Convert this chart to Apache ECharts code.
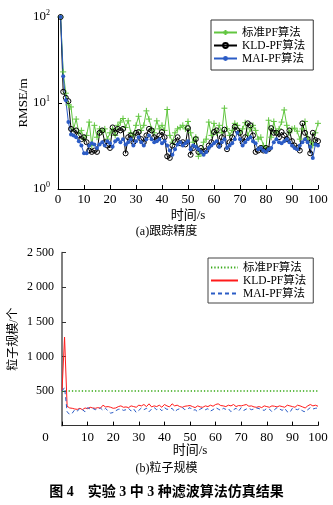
<!DOCTYPE html>
<html><head><meta charset="utf-8">
<script src="https://cdn.jsdelivr.net/npm/echarts@6/dist/echarts.min.js"></script>
<style>html,body{margin:0;padding:0;background:#fff}#c{width:333px;height:505px}</style>
</head><body><div id="c"></div>
<script>
const names = ['标准PF算法', 'KLD-PF算法', 'MAI-PF算法'];
const xTicks = [0, 10, 20, 30, 40, 50, 60, 70, 80, 90, 100];
const rmseStd = [100, 23, 13, 9.5, 9, 5, 6.5, 4.5, 4.8, 3.8,
 4.2, 6, 3.2, 5.5, 4, 5, 4.6, 5, 3.8, 4.5,
 5, 4.2, 5.5, 6, 6.6, 5.2, 6.2, 4.5, 4.2, 5.5,
 7, 4.8, 5.5, 8.1, 6.5, 5, 4.5, 6.2, 5, 5.5,
 4.8, 8.4, 4.2, 3.5, 4.5, 5, 5.2, 5.5, 5, 6.1,
 4.5, 3.5, 4, 2.4, 2.6, 3.5, 3.8, 6, 4.2, 5.8,
 4.5, 5.5, 4.5, 8.7, 5, 4.2, 4.8, 5.8, 5.5, 4.5,
 5, 5.9, 4.2, 5, 5.5, 4.8, 3.8, 4, 3.2, 3,
 6.3, 4, 6.1, 4.5, 5, 6, 8.3, 5.5, 4.5, 5,
 5.1, 4.7, 3.8, 5, 6.1, 4, 3.5, 3.2, 4.5, 5.8];
const rmseKld = [100, 13.5, 11.5, 10.5, 5, 4.6, 4.8, 4.2, 3.8, 4,
 3.5, 2.8, 2.7, 2.8, 2.7, 4.5, 4.8, 3.5, 3.2, 3,
 5.2, 4.5, 5, 4.8, 5, 2.6, 4, 4.2, 3.5, 4.5,
 4.6, 3.8, 3.5, 4.2, 5, 4.8, 4, 3.8, 4.2, 4.6,
 4, 2.4, 2.3, 3.2, 3.5, 4, 3.4, 3.5, 3.3, 5.1,
 2.5, 3, 3.8, 2.7, 3, 2.7, 2.8, 3.2, 3.5, 4.6,
 4.8, 3.2, 4, 4.9, 2.9, 3.5, 4, 5.3, 4.8, 4.5,
 3.5, 4, 5.8, 5.5, 4.2, 2.7, 2.8, 3, 2.8, 3,
 2.9, 5.1, 4.5, 4.5, 4, 4.6, 4.2, 3.8, 4.8, 3.6,
 3.2, 3, 2.8, 5.8, 4.5, 3.8, 2.6, 4.5, 3.7, 3.6];
const rmseMai = [100, 20.5, 10.8, 6, 4.3, 4.2, 4, 3.6, 3.2, 2.6,
 2.6, 3.2, 3.4, 3.3, 3, 3.3, 3.5, 3.2, 3.6, 3.4,
 3.1, 3.6, 3.8, 3.5, 3.8, 3.3, 3.5, 3.8, 3.2, 3.6,
 4, 3.5, 3.2, 3.8, 4.2, 3.8, 3.5, 3.6, 3.8, 3.4,
 3.6, 3.2, 2.8, 2.5, 2.9, 3.3, 3.5, 3.2, 3.4, 3.6,
 2.9, 3.2, 3.1, 2.9, 2.7, 2.5, 2.7, 3, 3.2, 3.4,
 3.6, 3.1, 3.5, 3.8, 3, 3.2, 3.4, 3.8, 4.5, 3.8,
 3.2, 3.5, 3.8, 4, 3.6, 3.4, 2.9, 3, 2.8, 2.7,
 2.9, 3, 3.5, 3.8, 3.5, 3.4, 3.6, 3.8, 3.5, 3.2,
 3, 2.9, 3.2, 3.5, 3.8, 3.5, 3.1, 2.3, 3.3, 3.2];
const partStd = [500, 500, 500, 500, 500, 500, 500, 500, 500, 500,
 500, 500, 500, 500, 500, 500, 500, 500, 500, 500,
 500, 500, 500, 500, 500, 500, 500, 500, 500, 500,
 500, 500, 500, 500, 500, 500, 500, 500, 500, 500,
 500, 500, 500, 500, 500, 500, 500, 500, 500, 500,
 500, 500, 500, 500, 500, 500, 500, 500, 500, 500,
 500, 500, 500, 500, 500, 500, 500, 500, 500, 500,
 500, 500, 500, 500, 500, 500, 500, 500, 500, 500,
 500, 500, 500, 500, 500, 500, 500, 500, 500, 500,
 500, 500, 500, 500, 500, 500, 500, 500, 500, 500,
 500];
const partKld = [500, 1280, 280, 255, 250, 240, 235, 250, 230, 255,
 245, 265, 255, 250, 260, 250, 295, 270, 275, 265,
 250, 255, 275, 285, 265, 270, 260, 285, 275, 265,
 295, 285, 305, 275, 315, 270, 285, 275, 295, 265,
 305, 285, 270, 315, 285, 295, 275, 265, 280, 285,
 290, 275, 260, 285, 270, 265, 285, 275, 295, 280,
 305, 315, 290, 285, 275, 295, 285, 305, 275, 290,
 285, 295, 305, 280, 285, 270, 265, 275, 260, 285,
 275, 265, 285, 280, 270, 285, 275, 265, 295, 285,
 275, 265, 295, 285, 270, 255, 285, 305, 285, 295,
 280];
const partMai = [500, 550, 200, 160, 180, 230, 210, 250, 230, 200,
 260, 240, 250, 230, 245, 255, 220, 250, 210, 180,
 190, 215, 235, 240, 220, 230, 250, 210, 240, 190,
 220, 255, 230, 250, 200, 240, 260, 230, 250, 215,
 260, 235, 240, 250, 200, 230, 245, 260, 230, 240,
 260, 220, 230, 200, 240, 255, 230, 245, 210, 230,
 260, 240, 220, 250, 235, 245, 200, 230, 250, 210,
 260, 220, 240, 250, 230, 240, 255, 245, 230, 220,
 250, 240, 200, 230, 260, 240, 220, 250, 200, 190,
 250, 240, 230, 250, 210, 200, 230, 260, 240, 250,
 255];

const FONT = "'Liberation Serif','Noto Sans CJK SC',serif";
const GREEN = '#62c640', BLUE = '#2b5cc6', RED = '#ff1a1a', DGREEN = '#35a814';
const top1 = (arr) => arr.map((v, i) => [i + 1, v]);
const top0 = (arr) => arr.map((v, i) => [i, v]);

const chart = echarts.init(document.getElementById('c'), null, {renderer: 'canvas'});
const baseX = (gi, zeroShift) => ({
  type: 'value', gridIndex: gi, min: 0, max: 100, interval: 10,
  name: '时间/s', nameLocation: 'middle', nameGap: gi === 0 ? 20 : 18,
  nameMoveOverlap: false,
  nameTextStyle: {fontFamily: FONT, fontSize: 13, color: '#000'},
  axisLine: {lineStyle: {color: gi === 0 ? '#000' : '#333', width: 1}},
  axisTick: {inside: true, length: 4, lineStyle: {color: '#000'}},
  splitLine: {show: false},
  axisLabel: {
    fontFamily: FONT, fontSize: 13, color: '#000', margin: gi === 0 ? 4 : 5,
    hideOverlap: false,
    formatter: (v) => (zeroShift && v === 0) ? '{z|0}' : String(v),
    rich: {z: {fontFamily: FONT, fontSize: 13, color: '#000', padding: [0, 33, 0, 0]}}
  }
});
const option = {
  animation: false,
  backgroundColor: '#fff',
  grid: [
    {left: 58, top: 17, width: 260, height: 172},
    {left: 58, top: 252.7, width: 260, height: 172.9}
  ],
  xAxis: [baseX(0, false), baseX(1, true)],
  yAxis: [
    {
      type: 'log', logBase: 10, gridIndex: 0, min: 1, max: 100,
      name: 'RMSE/m', nameLocation: 'middle', nameGap: 28, nameMoveOverlap: false,
      nameTextStyle: {fontFamily: FONT, fontSize: 13, color: '#000'},
      axisLine: {show: true, lineStyle: {color: '#000', width: 1}},
      axisTick: {show: true, inside: true, length: 4, lineStyle: {color: '#000'}},
      splitLine: {show: false},
      axisLabel: {
        margin: 8, color: '#000',
        formatter: (v) => '{b|10}{s|' + Math.round(Math.log10(v)) + '}',
        rich: {
          b: {fontFamily: FONT, fontSize: 13, color: '#000'},
          s: {fontFamily: FONT, fontSize: 8, color: '#000', padding: [0, 0, 8, 0]}
        }
      }
    },
    {
      type: 'value', gridIndex: 1, min: 0, max: 2500, interval: 500,
      name: '粒子规模/个', nameLocation: 'middle', nameGap: 42, nameMoveOverlap: false,
      nameTextStyle: {fontFamily: FONT, fontSize: 12, color: '#000'},
      axisLine: {show: true, lineStyle: {color: '#808080', width: 2}},
      axisTick: {show: true, inside: true, length: 4, lineStyle: {color: '#333'}},
      splitLine: {show: false},
      axisLabel: {
        margin: 8, fontFamily: FONT, fontSize: 12, color: '#000',
        formatter: (v) => {
          if (v === 0) return '';
          if (v >= 1000) return Math.floor(v / 1000) + ' ' + String(v % 1000).padStart(3, '0');
          return String(v);
        }
      }
    }
  ],
  legend: [
    {
      data: names, orient: 'vertical', left: 211, top: 20,
      padding: [6, 8, 5, 2], itemGap: 0, itemWidth: 23, itemHeight: 6,
      borderColor: '#333', borderWidth: 1, backgroundColor: '#fff',
      textStyle: {fontFamily: FONT, fontSize: 11.5, color: '#000', lineHeight: 13},
      selectedMode: false
    },
    {
      data: names.map(n => 'b_' + n), orient: 'vertical', left: 208, top: 258,
      padding: [3, 7, 3, 2], itemGap: 0, itemWidth: 27, itemHeight: 6,
      borderColor: '#444', borderWidth: 1, backgroundColor: '#fff',
      itemStyle: {color: 'rgba(0,0,0,0)', borderWidth: 0, opacity: 0},
      formatter: (n) => n.replace(/^b_/, ''),
      textStyle: {fontFamily: FONT, fontSize: 11.5, color: '#000', lineHeight: 13},
      selectedMode: false
    }
  ],
  title: [
    {text: '(a)跟踪精度', left: 'center', top: 226, textStyle: {fontFamily: FONT, fontSize: 12, fontWeight: 'normal', color: '#000'}, padding: 0},
    {text: '(b)粒子规模', left: 'center', top: 463, textStyle: {fontFamily: FONT, fontSize: 12, fontWeight: 'normal', color: '#000'}, padding: 0},
    {text: '图 4\u3000实验 3 中 3 种滤波算法仿真结果', left: 'center', top: 485, textStyle: {fontFamily: FONT, fontSize: 14, fontWeight: 'bold', color: '#000'}, padding: 0}
  ],
  series: [
    {
      name: names[0], type: 'line', xAxisIndex: 0, yAxisIndex: 0, data: top1(rmseStd),
      symbol: 'path://M0,5L10,5M5,0L5,10', symbolSize: 6,
      lineStyle: {color: GREEN, width: 1},
      itemStyle: {color: GREEN, borderColor: GREEN, borderWidth: 1}
    },
    {
      name: names[1], type: 'line', xAxisIndex: 0, yAxisIndex: 0, data: top1(rmseKld),
      symbol: 'circle', symbolSize: 5,
      lineStyle: {color: '#000', width: 1},
      itemStyle: {color: 'rgba(255,255,255,0)', borderColor: '#000', borderWidth: 1}
    },
    {
      name: names[2], type: 'line', xAxisIndex: 0, yAxisIndex: 0, data: top1(rmseMai),
      symbol: 'circle', symbolSize: 4,
      lineStyle: {color: BLUE, width: 1},
      itemStyle: {color: BLUE}
    },
    {
      name: 'b_' + names[0], type: 'line', xAxisIndex: 1, yAxisIndex: 1, data: top0(partStd),
      symbol: 'none', lineStyle: {color: DGREEN, width: 1.3, type: [1.3, 2]},
      itemStyle: {color: DGREEN}
    },
    {
      name: 'b_' + names[1], type: 'line', xAxisIndex: 1, yAxisIndex: 1, data: top0(partKld),
      symbol: 'none', lineStyle: {color: RED, width: 1},
      itemStyle: {color: RED}
    },
    {
      name: 'b_' + names[2], type: 'line', xAxisIndex: 1, yAxisIndex: 1, data: top0(partMai),
      symbol: 'none', lineStyle: {color: BLUE, width: 1, type: [4, 3]},
      itemStyle: {color: BLUE}
    }
  ]
};
chart.setOption(option);
</script></body></html>
